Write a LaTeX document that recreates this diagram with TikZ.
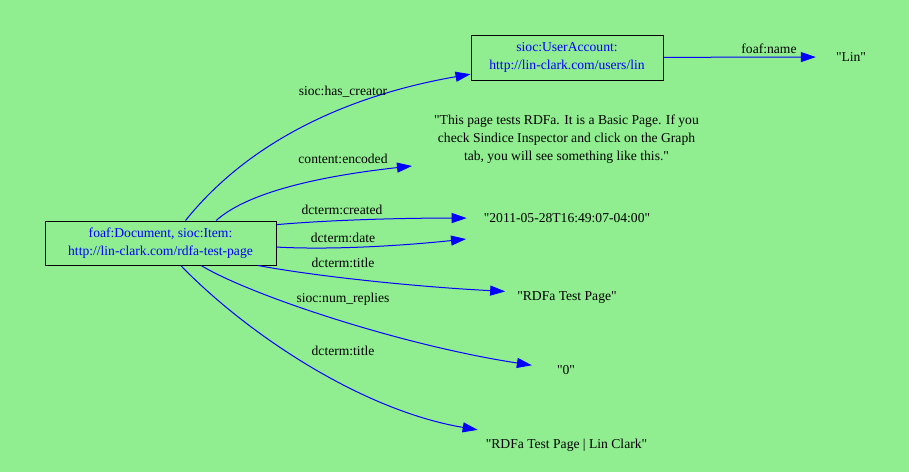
\documentclass[tikz,border=0pt]{standalone}
\usepackage{fontspec}
\setmainfont{Liberation Serif}[Ligatures=TeXOff]
\usetikzlibrary{arrows.meta}
\definecolor{bggreen}{HTML}{90EE90}
\definecolor{relblue}{HTML}{0000FF}

\begin{document}
\begin{tikzpicture}[x=1pt,y=-1pt,
  every node/.style={font=\fontsize{13.6}{18}\selectfont},
  res/.style={draw=black,line width=1pt,fill=bggreen,text=relblue,align=center,inner sep=0pt},
  lit/.style={inner ysep=0pt,anchor=base},
  lbl/.style={inner sep=0pt,anchor=base},
  rel/.style={draw=relblue,line width=1pt,-{Triangle[length=15pt,width=10pt]}}]
  \fill[bggreen] (0,0) rectangle (909,472);
  \useasboundingbox (0,0) rectangle (909,472);
  % resources
  \node[res,minimum width=231pt,minimum height=44pt] (doc) at (160.5,243) {foaf:Document, sioc:Item:\\http://lin-clark.com/rdfa-test-page};
  \node[res,minimum width=192pt,minimum height=45pt] (ua) at (567,57.5) {sioc:UserAccount:\\http://lin-clark.com/users/lin};
  % literals
  \node[lit,inner xsep=20pt] (lin) at (851,61.5) {"Lin"};
  \node[align=center,inner xsep=22pt,inner ysep=2pt] (content) at (566.5,139.5) {"This page tests RDFa. It is a Basic Page. If you\\check Sindice Inspector and click on the Graph\\tab, you will see something like this."};
  \node[lit,inner xsep=17pt] (created) at (567,222.5) {"2011-05-28T16:49:07-04:00"};
  \coordinate (date) at (466,239);
  \node[lit,inner xsep=12pt] (title) at (567,300.5) {"RDFa Test Page"};
  \node[lit,inner xsep=25pt] (replies) at (566,374.5) {"0"};
  \node[lit,inner xsep=8pt,inner ysep=9pt] (fulltitle) at (566.5,448.5) {"RDFa Test Page | Lin Clark"};
  % relations
  \draw[rel] (ua) -- (lin) node[lbl] (l-name) at (769,53.5) {foaf:name};
  \draw[rel] (doc.42) .. controls (250,140) and (350,95) .. (ua) node[lbl] (l-creator) at (343,95.5) {sioc:has\_creator};
  \draw[rel] (doc.22) .. controls (250,190) and (330,175) .. (content.south west) node[lbl] (l-content) at (343,163.5) {content:encoded};
  \draw[rel] (doc.9) .. controls (330,220) and (400,218) .. (created.west) node[lbl] (l-created) at (342,214.5) {dcterm:created};
  \draw[rel] (doc.-2) .. controls (330,250) and (400,246) .. (date) node[lbl] (l-date) at (343,242.5) {dcterm:date};
  \draw[rel] (doc.-13) .. controls (320,277) and (420,287) .. (title.north west) node[lbl] (l-title) at (343,267.5) {dcterm:title};
  \draw[rel] (doc.-29) .. controls (250,295) and (400,345) .. (replies.north west) node[lbl] (l-replies) at (343,302.5) {sioc:num\_replies};
  \draw[rel] (doc.-48) .. controls (245,332) and (360,410) .. (fulltitle.north west) node[lbl] (l-fulltitle) at (343,355.5) {dcterm:title};
\end{tikzpicture}
\end{document}
